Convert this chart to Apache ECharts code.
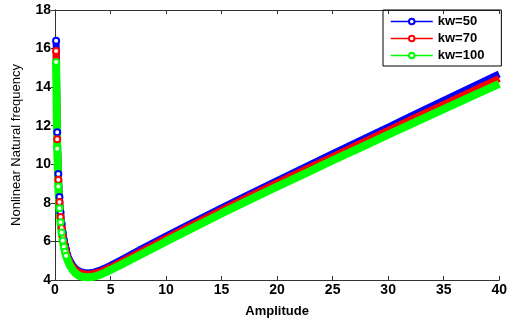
<!DOCTYPE html>
<html>
<head>
<meta charset="utf-8">
<script src="https://cdn.jsdelivr.net/npm/echarts@6/dist/echarts.min.js"></script>
<style>
  html, body {margin: 0; padding: 0; background: #fff;}
  #main {width: 510px; height: 323px;}
</style>
</head>
<body>
<div id="main"></div>
<script>
const amplitude = [0.1, 0.2, 0.3, 0.4, 0.5, 0.6, 0.7, 0.8, 0.9, 1.0, 1.2, 1.4, 1.6, 1.8, 2.0, 2.3, 2.6, 3.0, 3.5, 4, 4.5, 5, 6, 7, 8, 10, 12.5, 15, 17.5, 20, 22.5, 25, 27.5, 30, 32.5, 35, 37.5, 40];
const kw50 = [16.4, 11.66, 9.5, 8.3, 7.5, 6.9, 6.45, 6.08, 5.8, 5.57, 5.2, 4.95, 4.77, 4.63, 4.53, 4.44, 4.39, 4.37, 4.41, 4.5, 4.62, 4.76, 5.06, 5.37, 5.68, 6.28, 7.02, 7.74, 8.45, 9.15, 9.85, 10.55, 11.24, 11.93, 12.62, 13.31, 14.0, 14.68];
const kw70 = [15.87, 11.3, 9.2, 8.05, 7.27, 6.7, 6.27, 5.92, 5.65, 5.43, 5.08, 4.85, 4.68, 4.55, 4.46, 4.37, 4.32, 4.3, 4.33, 4.42, 4.53, 4.66, 4.95, 5.25, 5.55, 6.16, 6.9, 7.62, 8.33, 9.03, 9.72, 10.4, 11.08, 11.76, 12.44, 13.11, 13.78, 14.45];
const kw100 = [15.3, 10.8, 8.85, 7.72, 7.0, 6.46, 6.05, 5.73, 5.47, 5.26, 4.93, 4.69, 4.51, 4.38, 4.28, 4.19, 4.15, 4.14, 4.17, 4.26, 4.38, 4.52, 4.81, 5.1, 5.4, 6.0, 6.73, 7.45, 8.15, 8.84, 9.52, 10.2, 10.87, 11.54, 12.2, 12.86, 13.52, 14.17];
const seriesNames = ['kw=50', 'kw=70', 'kw=100'];
const seriesColors = ['#0000ff', '#ff0000', '#00ff00'];
const bandWidths = [7, 7, 8];

const font = 'Arial, "Liberation Sans", sans-serif';
const toPairs = ys => amplitude.map((a, i) => [a, ys[i]]);

const makeSeries = (name, ys, color, w) => ({
  name: name,
  type: 'line',
  data: toPairs(ys),
  symbol: 'emptyCircle',
  // only the first, well separated markers show as rings
  symbolSize: v => (v[0] <= 1 ? 6 : 0),
  color: color,
  itemStyle: {color: color, borderWidth: 1.3},
  lineStyle: {color: color, width: w},
  animation: false
});

const tickLabel = {color: '#000', fontFamily: font, fontWeight: 'bold', fontSize: 14};

let myChart = echarts.init(document.getElementById('main'));
myChart.setOption({
  backgroundColor: '#fff',
  grid: {left: 55, right: 8, top: 10, bottom: 37},
  legend: {
    orient: 'vertical',
    left: 383,
    top: 10,
    padding: [5, 17, 4, 7],
    borderColor: '#000',
    borderWidth: 1,
    itemWidth: 42,
    itemHeight: 7,
    itemGap: 4,
    lineStyle: {width: 1.5},
    itemStyle: {borderWidth: 1.2},
    textStyle: {color: '#000', fontFamily: font, fontWeight: 'bold', fontSize: 13},
    data: seriesNames
  },
  xAxis: [
    {
      type: 'value', min: 0, max: 40, interval: 5,
      name: 'Amplitude', nameLocation: 'middle', nameGap: 25,
      nameTextStyle: {color: '#000', fontFamily: font, fontWeight: 'bold', fontSize: 13},
      axisLine: {lineStyle: {color: '#333', width: 1}},
      axisTick: {inside: true, length: 4, lineStyle: {color: '#333'}},
      axisLabel: Object.assign({margin: 3}, tickLabel),
      splitLine: {show: false}
    },
    {
      type: 'value', min: 0, max: 40, interval: 5, position: 'top',
      axisLine: {lineStyle: {color: '#333', width: 1}},
      axisTick: {inside: true, length: 4, lineStyle: {color: '#333'}},
      axisLabel: {show: false},
      splitLine: {show: false}
    }
  ],
  yAxis: [
    {
      type: 'value', min: 4, max: 18, interval: 2,
      name: 'Nonlinear Natural frequency', nameLocation: 'middle', nameGap: 32,
      nameTextStyle: {color: '#000', fontFamily: font, fontSize: 13},
      axisLine: {show: true, lineStyle: {color: '#333', width: 1}},
      axisTick: {show: true, inside: true, length: 4, lineStyle: {color: '#333'}},
      axisLabel: Object.assign({margin: 4}, tickLabel),
      splitLine: {show: false}
    },
    {
      type: 'value', min: 4, max: 18, interval: 2, position: 'right',
      axisLine: {show: true, lineStyle: {color: '#333', width: 1}},
      axisTick: {show: true, inside: true, length: 4, lineStyle: {color: '#333'}},
      axisLabel: {show: false},
      splitLine: {show: false}
    }
  ],
  series: [
    makeSeries(seriesNames[0], kw50, seriesColors[0], bandWidths[0]),
    makeSeries(seriesNames[1], kw70, seriesColors[1], bandWidths[1]),
    makeSeries(seriesNames[2], kw100, seriesColors[2], bandWidths[2])
  ]
});
</script>
</body>
</html>
